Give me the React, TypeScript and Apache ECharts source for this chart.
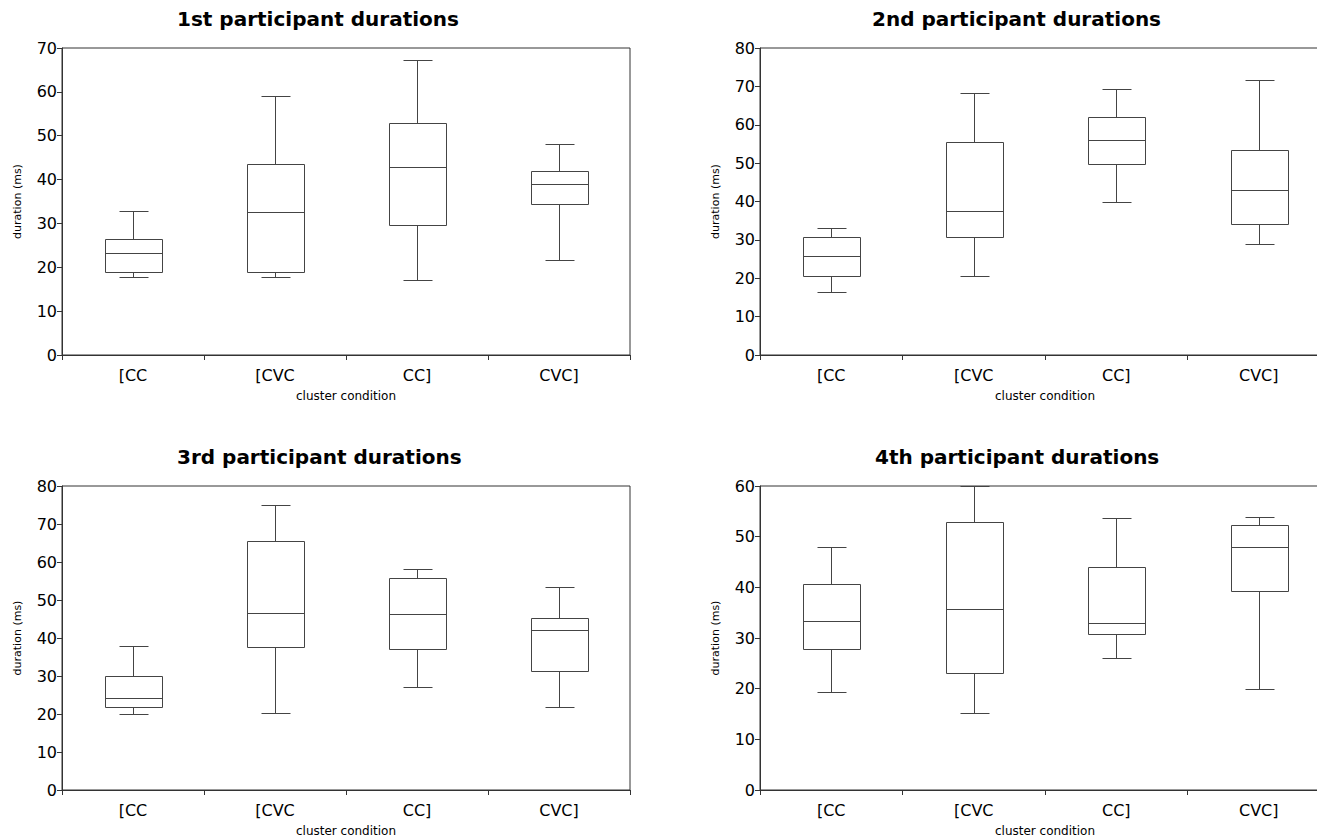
import React, { useEffect, useRef } from "react";
import * as echarts from "echarts";

const categories = ["[CC", "[CVC", "CC]", "CVC]"];
const titles = [
  "1st participant durations",
  "2nd participant durations",
  "3rd participant durations",
  "4th participant durations",
];
const yMaxes = [70, 80, 80, 60];

// [min, q1, median, q3, max] per category
const participant1 = [
  [17.8, 18.9, 23.3, 26.5, 32.9],
  [17.8, 18.9, 32.7, 43.5, 59.0],
  [17.2, 29.6, 42.8, 52.8, 67.3],
  [21.6, 34.5, 39.1, 41.9, 48.0],
];
const participant2 = [
  [16.3, 20.5, 25.8, 30.8, 33.1],
  [20.7, 30.8, 37.6, 55.6, 68.2],
  [39.9, 49.9, 55.9, 62.0, 69.3],
  [28.8, 34.2, 42.9, 53.5, 71.6],
];
const participant3 = [
  [19.9, 21.9, 24.1, 30.1, 38.0],
  [20.2, 37.6, 46.7, 65.5, 75.0],
  [27.0, 37.2, 46.2, 55.8, 58.2],
  [21.9, 31.4, 42.0, 45.3, 53.5],
];
const participant4 = [
  [19.3, 27.9, 33.4, 40.7, 48.0],
  [15.1, 23.0, 35.8, 52.9, 60.0],
  [26.1, 30.7, 33.0, 44.1, 53.7],
  [19.9, 39.3, 48.0, 52.3, 53.8],
];
const participants = [participant1, participant2, participant3, participant4];

const FONT = "DejaVu Sans";
const LINE = "#333";
const BOX = "#444";

const grids = [
  { left: 62, top: 48, width: 568, height: 307 },
  { left: 760, top: 48, width: 570, height: 307 },
  { left: 62, top: 486, width: 568, height: 305 },
  { left: 760, top: 486, width: 570, height: 305 },
];
const titlePos = [
  { left: 177, top: 9 },
  { left: 872, top: 9 },
  { left: 177, top: 447 },
  { left: 875, top: 447 },
];

export default function App() {
  const ref = useRef<HTMLDivElement>(null);
  useEffect(() => {
    if (!ref.current) return;
    const chart = echarts.init(ref.current, null, { renderer: "svg" });
    const r = (v: number) => Math.round(v) + 0.5;
    const renderItem = (params: any, api: any) => {
      const x = api.value(0);
      const pMin = api.coord([x, api.value(1)]);
      const pQ1 = api.coord([x, api.value(2)]);
      const pMed = api.coord([x, api.value(3)]);
      const pQ3 = api.coord([x, api.value(4)]);
      const pMax = api.coord([x, api.value(5)]);
      const bw = api.size([1, 0])[0] * 0.4;
      const cx = r(pMin[0]);
      const bl = r(cx - bw / 2);
      const br = r(cx + bw / 2);
      const cl = r(cx - bw / 4);
      const cr = r(cx + bw / 4);
      const st = { stroke: BOX, lineWidth: 1, fill: null };
      const line = (x1: number, y1: number, x2: number, y2: number) => ({
        type: "line",
        shape: { x1, y1, x2, y2 },
        style: st,
      });
      const yMin = r(pMin[1]);
      const yQ1 = r(pQ1[1]);
      const yMed = r(pMed[1]);
      const yQ3 = r(pQ3[1]);
      const yMax = r(pMax[1]);
      return {
        type: "group",
        children: [
          line(cx, yMax, cx, yQ3),
          line(cx, yQ1, cx, yMin),
          line(cl, yMax, cr, yMax),
          line(cl, yMin, cr, yMin),
          {
            type: "rect",
            shape: { x: bl, y: yQ3, width: br - bl, height: yQ1 - yQ3 },
            style: { stroke: BOX, lineWidth: 1, fill: "#fff" },
          },
          line(bl, yMed, br, yMed),
        ],
      };
    };

    const option: any = {
      animation: false,
      backgroundColor: "#fff",
      title: titles.map((t, i) => ({
        text: t,
        left: titlePos[i].left,
        top: titlePos[i].top,
        padding: 0,
        textStyle: { fontFamily: FONT, fontWeight: "bold", fontSize: 20, color: "#000" },
      })),
      grid: grids.map((g) => ({
        ...g,
        show: true,
        borderColor: LINE,
        borderWidth: 1,
        backgroundColor: "transparent",
        containLabel: false,
      })),
      xAxis: grids.map((_, i) => ({
        type: "category",
        gridIndex: i,
        data: categories,
        boundaryGap: true,
        name: "cluster condition",
        nameLocation: "middle",
        nameGap: 35,
        nameTextStyle: { fontFamily: FONT, fontSize: 12, color: "#000" },
        axisLine: { show: true, lineStyle: { color: LINE, width: 1 } },
        axisTick: { show: true, alignWithLabel: false, length: 5, lineStyle: { color: LINE } },
        axisLabel: { fontFamily: FONT, fontSize: 16, color: "#000", margin: 12 },
        splitLine: { show: false },
      })),
      yAxis: grids.map((_, i) => ({
        type: "value",
        gridIndex: i,
        min: 0,
        max: yMaxes[i],
        interval: 10,
        name: "duration (ms)",
        nameLocation: "middle",
        nameGap: 39,
        nameTextStyle: { fontFamily: FONT, fontSize: 11, color: "#000" },
        axisLine: { show: true, lineStyle: { color: LINE, width: 1 } },
        axisTick: { show: true, length: 5, lineStyle: { color: LINE } },
        axisLabel: { fontFamily: FONT, fontSize: 16, color: "#000", margin: 5 },
        splitLine: { show: false },
      })),
      series: participants.map((p, i) => ({
        type: "custom",
        xAxisIndex: i,
        yAxisIndex: i,
        renderItem,
        encode: { x: 0, y: [1, 2, 3, 4, 5] },
        data: p.map((v, k) => [k, ...v]),
        clip: false,
      })),
    };
    chart.setOption(option);
    return () => chart.dispose();
  }, []);
  return (
    <div
      style={{
        position: "absolute",
        left: 0,
        top: 0,
        width: 1317,
        height: 838,
        overflow: "hidden",
        background: "#fff",
      }}
    >
      <div ref={ref} style={{ width: 1340, height: 838 }} />
    </div>
  );
}
